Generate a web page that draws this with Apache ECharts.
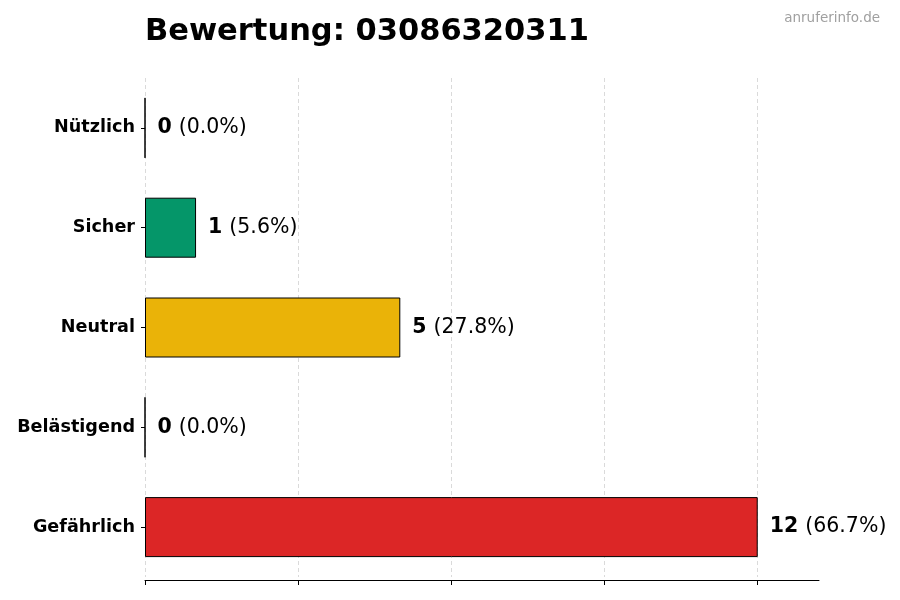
<!DOCTYPE html>
<html>
<head>
<meta charset="utf-8">
<script src="https://cdn.jsdelivr.net/npm/echarts@6/dist/echarts.min.js"></script>
<style>
  html, body { margin: 0; padding: 0; background: #fff; }
  #main { width: 900px; height: 600px; }
</style>
</head>
<body>
<div id="main"></div>
<script>
// daten
var categories = ['Nützlich', 'Sicher', 'Neutral', 'Belästigend', 'Gefährlich'];
var counts = [0, 1, 5, 0, 12];
var barColors = ['#2f9e44', '#059669', '#eab308', '#f97316', '#dc2626'];
var xTicks = [0, 3, 6, 9, 12];

var total = counts.reduce(function(a, b){ return a + b; }, 0);

var chart = echarts.init(document.getElementById('main'));

var option = {
    animation: false,
    textStyle: { fontFamily: 'DejaVu Sans' },
    title: [{
        text: 'Bewertung: 03086320311',
        left: 140,
        top: 12,
        textStyle: { fontSize: 30.5, fontWeight: 'bold', color: '#000', fontFamily: 'DejaVu Sans' }
    }, {
        text: 'anruferinfo.de',
        right: 15,
        top: 6,
        textStyle: { fontSize: 13.5, fontWeight: 'normal', color: '#a0a0a0', fontFamily: 'DejaVu Sans' }
    }],
    grid: { left: 145, right: 81, top: 78, bottom: 23 },
    xAxis: {
        type: 'value',
        min: 0,
        max: 13.2,
        offset: 3,
        axisLine: { show: true, lineStyle: { color: '#000', width: 1 } },
        axisTick: { show: true, length: 5, customValues: xTicks, lineStyle: { color: '#000' } },
        axisLabel: { show: false, customValues: xTicks },
        splitLine: { show: true, lineStyle: { color: '#d0d0d0', type: [4, 3], width: 0.8 } }
    },
    yAxis: {
        type: 'category',
        data: categories,
        inverse: true,
        axisLine: { show: false },
        axisTick: { show: true, alignWithLabel: true, length: 4, lineStyle: { color: '#000' } },
        axisLabel: { fontSize: 17.6, fontWeight: 'bold', color: '#000', margin: 10 }
    },
    series: [{
        type: 'bar',
        barWidth: 60,
        data: counts.map(function(v, i){
            return { value: v, itemStyle: { color: barColors[i] } };
        }),
        itemStyle: { borderColor: '#000', borderWidth: 1 },
        label: {
            show: true,
            position: 'right',
            distance: 12,
            formatter: function(p){
                var pct = total ? (p.value / total * 100).toFixed(1) : '0.0';
                return '{b|' + p.value + '}{n|(' + pct + '%)}';
            },
            rich: {
                b: { fontSize: 20.5, fontWeight: 'bold', color: '#000', fontFamily: 'DejaVu Sans', padding: [0, 7, 0, 0] },
                n: { fontSize: 20.5, color: '#000', fontFamily: 'DejaVu Sans' }
            }
        }
    }]
};

chart.setOption(option);
</script>
</body>
</html>
